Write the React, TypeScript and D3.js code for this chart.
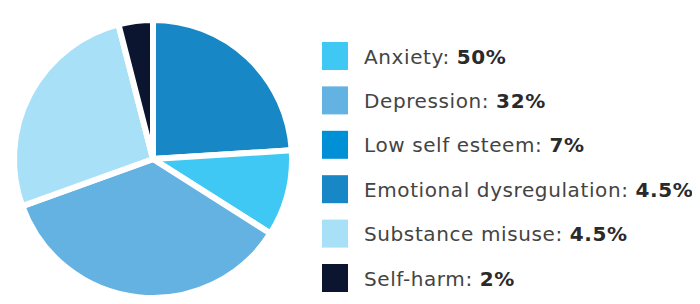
import React from "react";
import * as d3 from "d3";

// legend entries (as printed)
const categories = [
  "Anxiety",
  "Depression",
  "Low self esteem",
  "Emotional dysregulation",
  "Substance misuse",
  "Self-harm",
];
const legendLabels = ["50%", "32%", "7%", "4.5%", "4.5%", "2%"];
const colors = ["#40c8f4", "#63b2e2", "#0090d6", "#1787c6", "#a8e0f8", "#0b1530"];

// slices as drawn, clockwise from 12 o'clock (share of the circle, estimated)
const sliceCategories = [
  "Emotional dysregulation",
  "Anxiety",
  "Depression",
  "Substance misuse",
  "Self-harm",
];
const sliceShares = [24, 10, 35.5, 26.5, 4];

const App = () => {
  const width = 700;
  const height = 304;
  const cx = 153;
  const cy = 159;
  const radius = 139;

  const colorOf = d3.scaleOrdinal<string, string>().domain(categories).range(colors);

  const pie = d3
    .pie<number>()
    .sort(null)
    .value((d) => d);
  const arcs = pie(sliceShares);
  const arc = d3.arc<d3.PieArcDatum<number>>().innerRadius(0).outerRadius(radius);

  const rowY = d3.scalePoint<string>().domain(categories).range([56, 278]);

  return (
    <div style={{ margin: -8 }}>
      <svg width={width} height={height} style={{ display: "block", background: "#fff" }}>
        <g transform={`translate(${cx}, ${cy})`}>
          {arcs.map((d, i) => (
            <path
              key={i}
              d={arc(d) || ""}
              fill={colorOf(sliceCategories[i])}
              stroke="#fff"
              strokeWidth={6}
              strokeLinejoin="miter"
            />
          ))}
        </g>
        <g>
          {categories.map((c, i) => {
            const y = rowY(c) as number;
            return (
              <g key={c}>
                <rect x={322} y={y - 14} width={26} height={28} fill={colorOf(c)} />
                <text
                  x={364}
                  y={y + 7.5}
                  fontFamily="'DejaVu Sans', sans-serif"
                  fontSize={20}
                  letterSpacing={0.6}
                  fill="#444"
                >
                  {c}:{" "}
                  <tspan fontWeight="bold" fill="#2a2a2a">
                    {legendLabels[i]}
                  </tspan>
                </text>
              </g>
            );
          })}
        </g>
      </svg>
    </div>
  );
};

export default App;
